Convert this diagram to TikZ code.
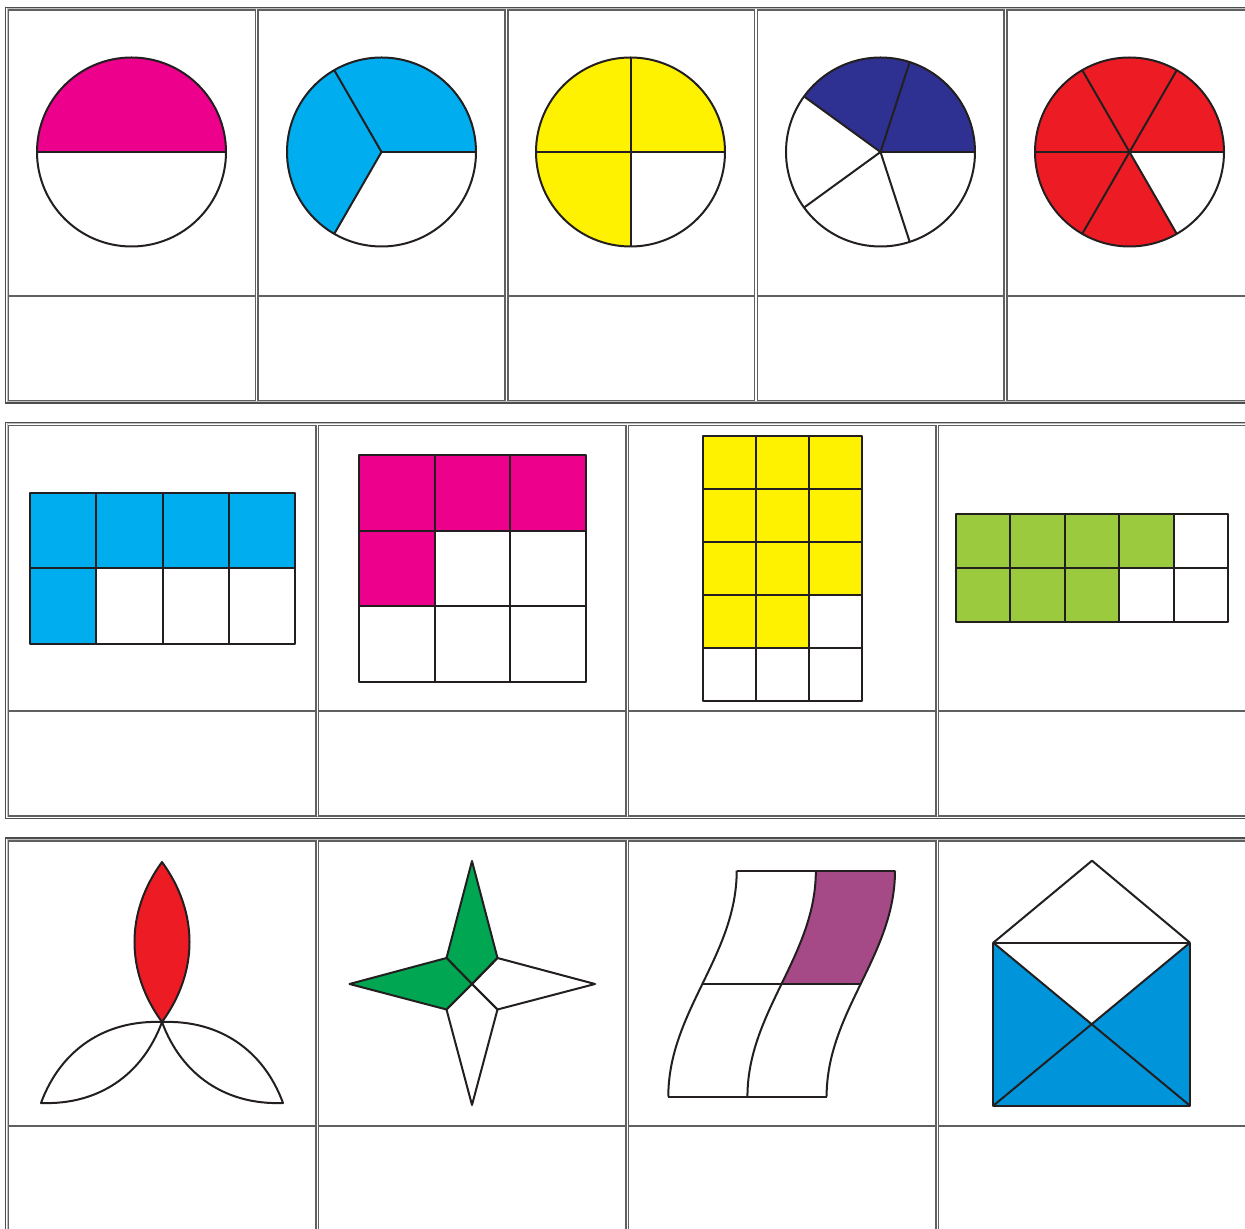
\documentclass[tikz,border=0pt]{standalone}
\usepackage{xcolor}
\usepackage{tikz}
\definecolor{pinkfill}{HTML}{EC008C}
\definecolor{cyanfill}{HTML}{00AEEF}
\definecolor{yellowfill}{HTML}{FFF200}
\definecolor{navyfill}{HTML}{2E3192}
\definecolor{redfill}{HTML}{ED1C24}
\definecolor{limefill}{HTML}{9BCA3E}
\definecolor{greenfill}{HTML}{00A651}
\definecolor{plumfill}{HTML}{A54A87}
\definecolor{envblue}{HTML}{0095DA}
\definecolor{inkline}{HTML}{231F20}
\definecolor{tablegray}{HTML}{5F6062}

\begin{document}
\begin{tikzpicture}[x=0.02cm, y=-0.02cm,
  figline/.style={draw=inkline, line width=0.04cm, line join=round},
  cellline/.style={draw=tablegray, line width=0.035cm},
  frameline/.style={draw=tablegray!80!black, line width=0.035cm}]
\clip (0,0) rectangle (1245,1229);
\fill[white] (0,0) rectangle (1245,1229);

% table frames
\foreach \top/\bot/\mid in {7.5/403/296, 422.5/818.5/711, 838/1250/1126} {
  \draw[frameline] (5.5,\top) rectangle (1262,\bot);
  \draw[draw=gray!50, line width=0.02cm] (7,\top+1.5) rectangle (1262,\bot-1.5);
}
\foreach \l/\r in {8.5/255.5, 258/505, 508/754.5, 757.5/1004, 1007/1262} {
  \draw[cellline] (\l,10) rectangle (\r,400.5);
  \draw[cellline] (\l,296) -- (\r,296);
}
\foreach \l/\r in {8.5/316, 318.5/626, 628.5/936, 938.5/1262} {
  \draw[cellline] (\l,425.5) rectangle (\r,816);
  \draw[cellline] (\l,711) -- (\r,711);
  \draw[cellline] (\l,841) rectangle (\r,1247);
  \draw[cellline] (\l,1126) -- (\r,1126);
}

% circles
\begin{scope}[shift={(131.5,152)}, yscale=-1]
  \fill[pinkfill] (0,0) -- (0:94.5) arc[start angle=0, end angle=180, radius=94.5] -- cycle;
  \draw[figline] (0,0) circle[radius=94.5];
  \draw[figline] (180:94.5) -- (0:94.5);
\end{scope}
\begin{scope}[shift={(381.5,152)}, yscale=-1]
  \fill[cyanfill] (0,0) -- (0:94.5) arc[start angle=0, end angle=240, radius=94.5] -- cycle;
  \draw[figline] (0,0) circle[radius=94.5];
  \foreach \a in {0,120,240} {\draw[figline] (0,0) -- (\a:94.5);}
\end{scope}
\begin{scope}[shift={(630.5,152)}, yscale=-1]
  \fill[yellowfill] (0,0) -- (0:94.5) arc[start angle=0, end angle=270, radius=94.5] -- cycle;
  \draw[figline] (0,0) circle[radius=94.5];
  \foreach \a in {0,90,180,270} {\draw[figline] (0,0) -- (\a:94.5);}
\end{scope}
\begin{scope}[shift={(880.5,152)}, yscale=-1]
  \fill[navyfill] (0,0) -- (0:94.5) arc[start angle=0, end angle=144, radius=94.5] -- cycle;
  \draw[figline] (0,0) circle[radius=94.5];
  \foreach \a in {0,72,...,288} {\draw[figline] (0,0) -- (\a:94.5);}
\end{scope}
\begin{scope}[shift={(1129.5,152)}, yscale=-1]
  \fill[redfill] (0,0) -- (0:94.5) arc[start angle=0, end angle=300, radius=94.5] -- cycle;
  \draw[figline] (0,0) circle[radius=94.5];
  \foreach \a in {0,60,...,300} {\draw[figline] (0,0) -- (\a:94.5);}
\end{scope}

% grids
\foreach \i in {0,1,2,3} {\fill[cyanfill] (30+\i*66.25,493) rectangle ++(66.25,75.5);}
\fill[cyanfill] (30,568.5) rectangle ++(66.25,75.5);
\foreach \i in {0,1,2,3} {\foreach \j in {0,1} {\draw[figline] (30+\i*66.25,493+\j*75.5) rectangle ++(66.25,75.5);}}

\foreach \i in {0,1,2} {\fill[pinkfill] (359+\i*75.67,455) rectangle ++(75.67,75.67);}
\fill[pinkfill] (359,530.67) rectangle ++(75.67,75.67);
\foreach \i in {0,1,2} {\foreach \j in {0,1,2} {\draw[figline] (359+\i*75.67,455+\j*75.67) rectangle ++(75.67,75.67);}}

\fill[yellowfill] (703,436) rectangle (862,595);
\fill[yellowfill] (703,595) rectangle (809,648);
\foreach \i in {0,1,2} {\foreach \j in {0,...,4} {\draw[figline] (703+\i*53,436+\j*53) rectangle ++(53,53);}}

\fill[limefill] (956,514) rectangle (1173.6,568);
\fill[limefill] (956,568) rectangle (1119.2,622);
\foreach \i in {0,...,4} {\foreach \j in {0,1} {\draw[figline] (956+\i*54.4,514+\j*54) rectangle ++(54.4,54);}}

% petals
\coordinate (petalC) at (162,1022);
\coordinate (petalT) at (162,862);
\coordinate (petalL) at (41,1103);
\coordinate (petalR) at (283,1103);
\draw[figline, fill=redfill] (petalT) to[bend left=36] (petalC) to[bend left=36] (petalT) -- cycle;
\draw[figline] (petalC) to[bend left=36] (petalL) to[bend left=36] (petalC);
\draw[figline] (petalC) to[bend left=36] (petalR) to[bend left=36] (petalC);

% star
\coordinate (starO) at (472,984);
\coordinate (starN) at (472,861);
\coordinate (starS) at (472,1105);
\coordinate (starW) at (349.5,984);
\coordinate (starE) at (595,984);
\coordinate (starNW) at (446.5,958);
\coordinate (starNE) at (497.5,958);
\coordinate (starSW) at (446.5,1009.5);
\coordinate (starSE) at (497.5,1009.5);
\draw[figline, fill=greenfill] (starO) -- (starNW) -- (starN) -- (starNE) -- cycle;
\draw[figline, fill=greenfill] (starO) -- (starNW) -- (starW) -- (starSW) -- cycle;
\draw[figline] (starO) -- (starNE) -- (starE) -- (starSE) -- cycle;
\draw[figline] (starO) -- (starSW) -- (starS) -- (starSE) -- cycle;

% slanted strip
\fill[plumfill] (815.7,870.7) -- (895,870.7) .. controls (895,913.2) and (877.9,948.45) .. (860.8,983.7)
  -- (781.5,983.7) .. controls (798.6,948.45) and (815.7,913.2) .. (815.7,870.7) -- cycle;
\foreach \dx in {0,79.15,158.3} {
  \draw[figline] (736.7+\dx,870.7) .. controls (736.7+\dx,955.7) and (668.3+\dx,1011.7) .. (668.3+\dx,1096.7);
}
\draw[figline] (736.7,870.7) -- (895,870.7);
\draw[figline] (702.5,983.7) -- (860.8,983.7);
\draw[figline] (668.3,1096.7) -- (826.6,1096.7);

% envelope
\coordinate (envTL) at (993.3,942.7);
\coordinate (envTR) at (1190,942.7);
\coordinate (envBL) at (993.3,1105.7);
\coordinate (envBR) at (1190,1105.7);
\coordinate (envTip) at (1092,860.7);
\coordinate (envX) at (1091.7,1024.2);
\fill[envblue] (envTL) rectangle (envBR);
\fill[white] (envTL) -- (envTR) -- (envX) -- cycle;
\draw[figline] (envTL) -- (envTip) -- (envTR);
\draw[figline] (envTL) rectangle (envBR);
\draw[figline] (envTL) -- (envBR);
\draw[figline] (envTR) -- (envBL);
\end{tikzpicture}
\end{document}
